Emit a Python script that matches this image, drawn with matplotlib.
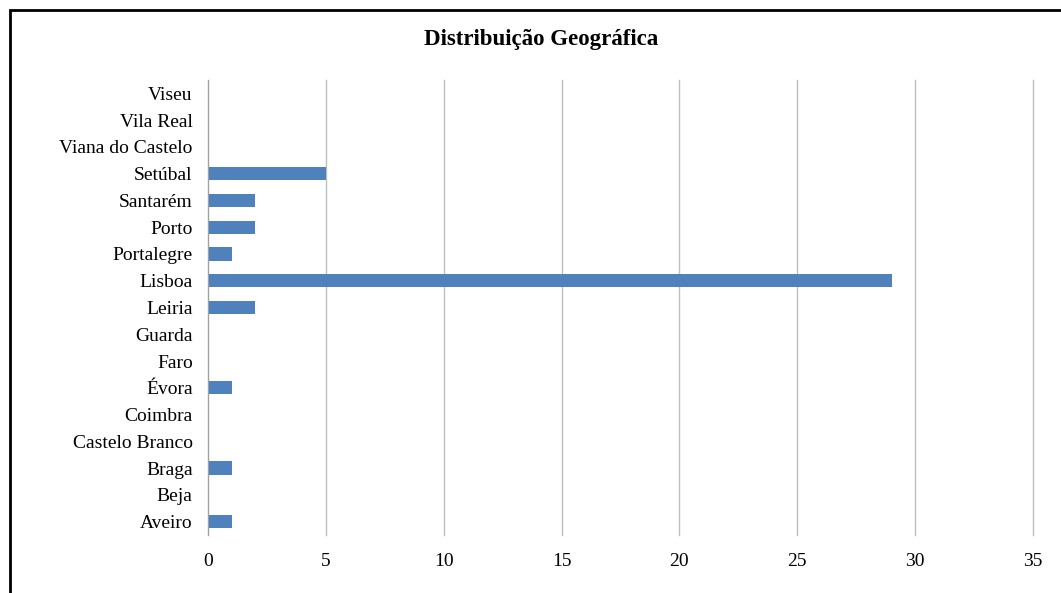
import matplotlib.pyplot as plt
from matplotlib.patches import Rectangle

districts = ["Aveiro", "Beja", "Braga", "Castelo Branco", "Coimbra", "Évora", "Faro",
             "Guarda", "Leiria", "Lisboa", "Portalegre", "Porto", "Santarém", "Setúbal",
             "Viana do Castelo", "Vila Real", "Viseu"]
counts = [1, 0, 1, 0, 0, 1, 0, 0, 2, 29, 1, 2, 2, 5, 0, 0, 0]
xticks = [0, 5, 10, 15, 20, 25, 30, 35]

plt.rcParams['font.family'] = ['Liberation Serif', 'DejaVu Serif']

W, H = 1061, 593
fig = plt.figure(figsize=(W / 100, H / 100), dpi=100)

# outer chart border (cropped at right/bottom in the original)
fig.patches.append(Rectangle((10 / W, -0.1), 1.2, (H - 10) / H + 0.1, transform=fig.transFigure,
                             fill=False, edgecolor='black', linewidth=2))

ax = fig.add_axes([208 / W, 1 - 535 / H, (1033 - 208) / W, (535 - 80) / H])
ax.barh(range(len(districts)), counts, height=0.5, color='#4F81BD')
ax.set_ylim(-0.5, len(districts) - 0.5)
ax.set_xlim(0, 35)
ax.set_xticks(xticks)
ax.set_yticks(range(len(districts)))
ax.set_yticklabels(districts)
ax.tick_params(length=0, labelsize=14)
ax.tick_params(axis='x', pad=13)
ax.tick_params(axis='y', pad=11)
ax.xaxis.grid(True, color='#BFBFBF', linewidth=1)
for gl in ax.get_xgridlines():
    gl.set_clip_on(False)
ax.set_axisbelow(True)
for s in ['top', 'right', 'bottom']:
    ax.spines[s].set_visible(False)
ax.spines['left'].set_color('#A0A0A0')

fig.text(541 / W, 1 - 40 / H, "Distribuição Geográfica", ha='center', va='center',
         fontsize=16.5, fontweight='bold')

fig.savefig("out.png", dpi=100)
